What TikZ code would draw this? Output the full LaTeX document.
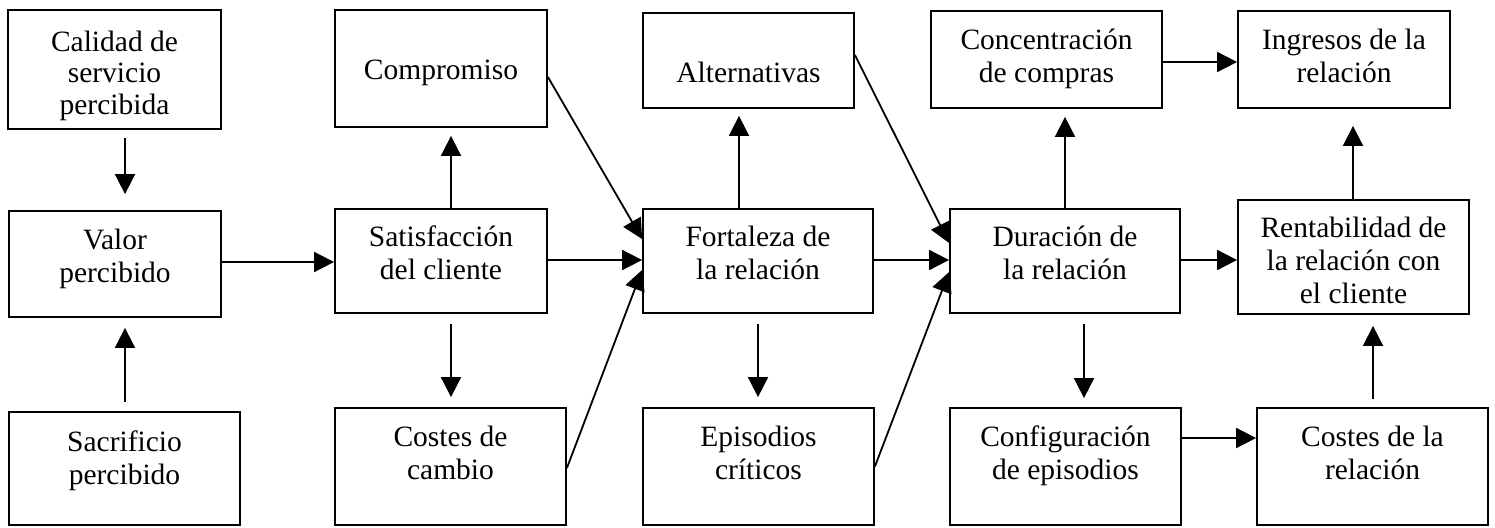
\documentclass[tikz,border=0pt]{standalone}
\usepackage{fontspec}
\setmainfont{Liberation Serif}
\usetikzlibrary{arrows.meta}
\tikzset{
  box/.style={draw, line width=1.8pt, inner sep=0pt},
  txt/.style={align=center, inner sep=0pt, anchor=base, font=\fontsize{29.5}{33}\selectfont},
  arr/.style={line width=1.8pt, -{Triangle[length=20pt,width=20pt]}},
}
\begin{document}
\begin{tikzpicture}[x=1pt,y=-1pt]
\useasboundingbox (0,0) rectangle (1495,527);
% boxes
\node[box, minimum width=213pt, minimum height=119pt] (cal) at (114.5,69.5) {};
\node[box, minimum width=212pt, minimum height=106pt] (val) at (115,264) {};
\node[box, minimum width=231pt, minimum height=113pt] (sac) at (124.5,468.5) {};
\node[box, minimum width=212pt, minimum height=117pt] (com) at (441,68.5) {};
\node[box, minimum width=212pt, minimum height=104pt] (sat) at (441,261) {};
\node[box, minimum width=231pt, minimum height=117pt] (cos) at (450.5,466.5) {};
\node[box, minimum width=211pt, minimum height=95pt] (alt) at (748.5,60.5) {};
\node[box, minimum width=230pt, minimum height=104pt] (fort) at (758,261) {};
\node[box, minimum width=231pt, minimum height=117pt] (epi) at (758.5,466.5) {};
\node[box, minimum width=231pt, minimum height=97pt] (conc) at (1046.5,59.5) {};
\node[box, minimum width=230pt, minimum height=104pt] (dur) at (1065,261) {};
\node[box, minimum width=231pt, minimum height=117pt] (conf) at (1065.5,466.5) {};
\node[box, minimum width=212pt, minimum height=97pt] (ing) at (1344,59.5) {};
\node[box, minimum width=231pt, minimum height=114pt] (ren) at (1353.5,257) {};
\node[box, minimum width=231pt, minimum height=117pt] (cor) at (1372.5,466.5) {};
% texts (anchored at the baseline of their last line)
\node[txt, font=\fontsize{29.5}{31.5}\selectfont] (cal-t) at (114.5,114) {Calidad de\\servicio\\percibida};
\node[txt] (val-t) at (115,282) {Valor\\percibido};
\node[txt] (sac-t) at (124.5,484) {Sacrificio\\percibido};
\node[txt] (com-t) at (441,79) {Compromiso};
\node[txt] (sat-t) at (441,279) {Satisfacción\\del cliente};
\node[txt] (cos-t) at (450.5,479) {Costes de\\cambio};
\node[txt] (alt-t) at (748.5,82) {Alternativas};
\node[txt] (fort-t) at (758,279) {Fortaleza de\\la relación};
\node[txt] (epi-t) at (758.5,479) {Episodios\\críticos};
\node[txt] (conc-t) at (1046.5,82) {Concentración\\de compras};
\node[txt] (dur-t) at (1065,279) {Duración de\\la relación};
\node[txt] (conf-t) at (1065.5,479) {Configuración\\de episodios};
\node[txt] (ing-t) at (1344,82) {Ingresos de la\\relación};
\node[txt] (ren-t) at (1353.5,303) {Rentabilidad de\\la relación con\\el cliente};
\node[txt] (cor-t) at (1372.5,479) {Costes de la\\relación};
% arrows
\draw[arr, shorten <=8pt, shorten >=16pt] ([xshift=10.5pt]cal.south) -- ([xshift=10.5pt]cal.south |- val.north);
\draw[arr, shorten <=9pt, shorten >=10pt] ([xshift=0.5pt]sac.north) -- ([xshift=0.5pt]sac.north |- val.south);
\draw[arr] ([yshift=2pt]val.east) -- ([yshift=2pt]val.east -| sat.west);
\draw[arr, shorten >=8pt] ([xshift=10pt]sat.north) -- ([xshift=10pt]sat.north |- com.south);
\draw[arr, shorten <=10pt, shorten >=10pt] ([xshift=10pt]sat.south) -- ([xshift=10pt]sat.south |- cos.north);
\draw[arr] ([yshift=-8.5pt]com.east) -- ([yshift=22pt]fort.west);
\draw[arr] ([yshift=1pt]sat.east) -- ([yshift=1pt]sat.east -| fort.west);
\draw[arr] ([yshift=-1.5pt]cos.east) -- ([yshift=-9pt]fort.west);
\draw[arr, shorten >=7pt] ([xshift=-19pt]fort.north) -- ([xshift=-19pt]fort.north |- alt.south);
\draw[arr, shorten <=10pt, shorten >=10pt] (fort.south) -- (fort.south |- epi.north);
\draw[arr] ([yshift=5.5pt]alt.east) -- ([yshift=18pt]dur.west);
\draw[arr] ([yshift=1pt]fort.east) -- ([yshift=1pt]fort.east -| dur.west);
\draw[arr] (epi.east) -- ([yshift=-11pt]dur.west);
\draw[arr, shorten >=8pt] (dur.north) -- (dur.north |- conc.south);
\draw[arr, shorten <=10pt, shorten >=9pt] ([xshift=19pt]dur.south) -- ([xshift=19pt]dur.south |- conf.north);
\draw[arr] ([yshift=-2.5pt]conc.east) -- ([yshift=-2.5pt]conc.east -| ing.west);
\draw[arr] ([yshift=1pt]dur.east) -- ([yshift=1pt]dur.east -| ren.west);
\draw[arr, shorten >=17pt] ([xshift=-0.5pt]ren.north) -- ([xshift=-0.5pt]ren.north |- ing.south);
\draw[arr, shorten <=8pt, shorten >=11pt] ([xshift=0.5pt]cor.north) -- ([xshift=0.5pt]cor.north |- ren.south);
\draw[arr] ([yshift=28.5pt]conf.east) -- ([yshift=28.5pt]conf.east -| cor.west);
\end{tikzpicture}
\end{document}
